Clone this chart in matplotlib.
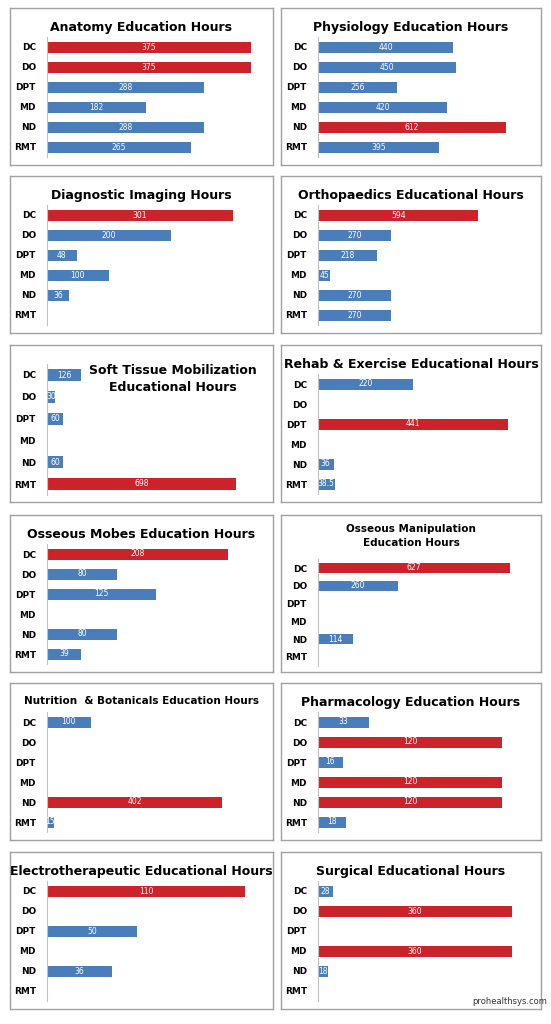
import matplotlib.pyplot as plt
import numpy as np

cats = ["DC", "DO", "DPT", "MD", "ND", "RMT"]

titles = ["Anatomy Education Hours", "Physiology Education Hours",
          "Diagnostic Imaging Hours", "Orthopaedics Educational Hours",
          "Soft Tissue Mobilization\nEducational Hours", "Rehab & Exercise Educational Hours",
          "Osseous Mobes Education Hours", "Osseous Manipulation\nEducation Hours",
          "Nutrition  & Botanicals Education Hours", "Pharmacology Education Hours",
          "Electrotherapeutic Educational Hours", "Surgical Educational Hours"]

# None = no bar
anatomy = [375, 375, 288, 182, 288, 265]
physiology = [440, 450, 256, 420, 612, 395]
imaging = [301, 200, 48, 100, 36, None]
ortho = [594, 270, 218, 45, 270, 270]
soft_tissue = [126, 30, 60, None, 60, 698]
rehab = [220, None, 441, None, 36, 38.5]
mobes = [208, 80, 125, None, 80, 39]
manip = [627, 260, None, None, 114, None]
nutrition = [100, None, None, None, 402, 15]
pharma = [33, 120, 16, 120, 120, 18]
electro = [110, None, 50, None, 36, None]
surgical = [28, 360, None, 360, 18, None]

# which bars are red
highlight = [[0, 1], [4], [0], [0], [5], [2], [0], [0], [4], [1, 3, 4], [0], [1, 3]]

series = [anatomy, physiology, imaging, ortho, soft_tissue, rehab,
          mobes, manip, nutrition, pharma, electro, surgical]

xmaxes = [400, 699, 353, 796, 805, 498, 250, 701, 500, 140, 121, 400]

W, H = 551, 1024
BLUE = "#4a7ebb"
RED = "#cc2229"

fig = plt.figure(figsize=(W / 100, H / 100), dpi=100)

col_x = [(10, 273), (281, 541)]
row_y = [8, 176, 345, 515, 683, 852]
ph = 157


def rect(x0, y0, x1, y1):
    return [x0 / W, 1 - y1 / H, (x1 - x0) / W, (y1 - y0) / H]


for i, vals in enumerate(series):
    r, c = divmod(i, 2)
    x0, x1 = col_x[c]
    y0 = row_y[r]
    frame = fig.add_axes(rect(x0, y0, x1, y0 + ph))
    frame.set_xticks([])
    frame.set_yticks([])
    for s in frame.spines.values():
        s.set_color("#a0a0a0")
        s.set_linewidth(1)

    top, bot = 39, 139
    if i == 4:
        top = 30
    if i == 7:
        top, bot = 53, 142
    step = (bot - top) / 5
    ax = fig.add_axes(rect(x0 + 37, y0 + top - step / 2, x1 - 8, y0 + bot + step / 2))
    ax.patch.set_alpha(0)

    fs_title = 9
    if i in (7, 8):
        fs_title = 7.5
    if i == 4:
        frame.text(0.62, 0.88, titles[i], ha="center", va="top", fontsize=fs_title,
                   fontweight="bold", transform=frame.transAxes, linespacing=1.4)
    elif i == 7:
        frame.text(0.5, 0.94, titles[i], ha="center", va="top", fontsize=fs_title,
                   fontweight="bold", transform=frame.transAxes, linespacing=1.5)
    else:
        frame.text(0.5, 0.92, titles[i], ha="center", va="top", fontsize=fs_title,
                   fontweight="bold", transform=frame.transAxes)

    ypos = np.arange(len(cats))
    for j, v in enumerate(vals):
        if v is None:
            continue
        col = RED if j in highlight[i] else BLUE
        ax.barh(j, v, height=0.55, color=col)
        lbl = f"{v:g}"
        ax.text(v / 2, j, lbl, ha="center", va="center", fontsize=5.5, color="white")

    ax.set_ylim(len(cats) - 0.5, -0.5)
    ax.set_xlim(0, xmaxes[i])
    ax.set_yticks(ypos)
    ax.set_yticklabels(cats, fontsize=6.5, fontweight="bold")
    ax.tick_params(axis="y", length=0, pad=8)
    ax.set_xticks([])
    for s in ["top", "right", "bottom"]:
        ax.spines[s].set_visible(False)
    ax.spines["left"].set_color("#c0c0c0")

fig.text(510 / W, 1 - 1001 / H, "prohealthsys.com", ha="center", va="center",
         fontsize=6, color="#333333")

fig.savefig("out.png", dpi=100)
